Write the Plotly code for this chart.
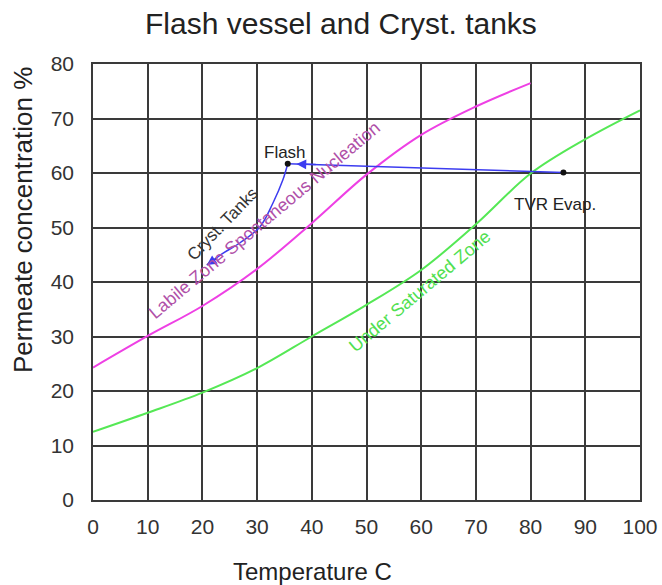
import plotly.graph_objects as go

# ---- data ----
labile_temp = [0, 10, 20, 30, 40, 50, 60, 70, 80]
labile_conc = [24.3, 30.1, 35.6, 42.4, 50.8, 59.7, 67.0, 72.2, 76.5]

sat_temp = [0, 10, 20, 30, 40, 50, 60, 70, 80, 90, 100]
sat_conc = [12.5, 16.0, 19.7, 24.2, 30.0, 35.8, 42.2, 50.6, 59.9, 66.2, 71.5]

evap_path_temp = [86.0, 35.6]
evap_path_conc = [60.1, 61.7]

cryst_path_temp = [35.6, 34.7, 32.9, 30.5, 26.9, 23.8, 20.8]
cryst_path_conc = [61.7, 58.7, 54.5, 50.1, 47.2, 45.3, 43.1]

point_temp = [35.6, 86.0]
point_conc = [61.7, 60.1]

x_ticks = [0, 10, 20, 30, 40, 50, 60, 70, 80, 90, 100]
y_ticks = [0, 10, 20, 30, 40, 50, 60, 70, 80]

FONT = "Liberation Sans, Arial, sans-serif"
MAGENTA = "#ee40e4"
GREEN = "#55e855"
BLUE = "#3c3cf0"

fig = go.Figure()
fig.add_trace(go.Scatter(x=labile_temp, y=labile_conc, mode="lines",
                         line=dict(color=MAGENTA, width=2, shape="spline", smoothing=1.0),
                         showlegend=False, hoverinfo="skip"))
fig.add_trace(go.Scatter(x=sat_temp, y=sat_conc, mode="lines",
                         line=dict(color=GREEN, width=2, shape="spline", smoothing=1.0),
                         showlegend=False, hoverinfo="skip"))
fig.add_trace(go.Scatter(x=evap_path_temp, y=evap_path_conc, mode="lines",
                         line=dict(color=BLUE, width=1.5),
                         showlegend=False, hoverinfo="skip"))
fig.add_trace(go.Scatter(x=cryst_path_temp, y=cryst_path_conc, mode="lines",
                         line=dict(color=BLUE, width=1.5, shape="spline"),
                         showlegend=False, hoverinfo="skip"))
fig.add_trace(go.Scatter(x=point_temp, y=point_conc, mode="markers",
                         marker=dict(color="#111111", size=6),
                         showlegend=False, hoverinfo="skip"))

# arrow heads along the paths
fig.add_annotation(x=37.2, y=evap_path_conc[1] - 0.05, ax=41, ay=evap_path_conc[1] - 0.15,
                   xref="x", yref="y", axref="x", ayref="y", text="",
                   showarrow=True, arrowhead=2, arrowsize=1.3, arrowwidth=1.5, arrowcolor=BLUE)
fig.add_annotation(x=cryst_path_temp[-1], y=cryst_path_conc[-1], ax=23.0, ay=44.6,
                   xref="x", yref="y", axref="x", ayref="y", text="",
                   showarrow=True, arrowhead=2, arrowsize=1.3, arrowwidth=1.5, arrowcolor=BLUE)

# text labels
fig.add_annotation(x=35.1, y=63.8, text="Flash", showarrow=False,
                   font=dict(family=FONT, size=17, color="#222222"))
fig.add_annotation(x=84.5, y=54.2, text="TVR Evap.", showarrow=False,
                   font=dict(family=FONT, size=17, color="#222222"))
fig.add_annotation(x=23.6, y=50.6, text="Cryst. Tanks", showarrow=False, textangle=-46,
                   font=dict(family=FONT, size=17, color="#333333"))
fig.add_annotation(x=31.4, y=51.3, text="Labile Zone Spontaneous Nucleation", showarrow=False,
                   textangle=-40, font=dict(family=FONT, size=18, color="#b050a8"))
fig.add_annotation(x=59.8, y=38.3, text="Under Saturated Zone", showarrow=False,
                   textangle=-40, font=dict(family=FONT, size=18, color="#50e050"))

# axis titles
fig.add_annotation(x=-0.128, y=0.642, xref="paper", yref="paper", xanchor="center", yanchor="middle",
                   text="Permeate concentration %", showarrow=False, textangle=-90,
                   font=dict(family=FONT, size=26, color="#222222"))
fig.add_annotation(x=0.402, y=-0.165, xref="paper", yref="paper", xanchor="center", yanchor="middle",
                   text="Temperature C", showarrow=False,
                   font=dict(family=FONT, size=24, color="#222222"))

axis_common = dict(showgrid=True, gridcolor="#3a3a3a", gridwidth=1.5,
                   showline=True, linecolor="#3a3a3a", linewidth=1.5, mirror=True,
                   zeroline=False, ticks="", automargin=False,
                   tickfont=dict(family=FONT, size=21, color="#333333"))

fig.update_xaxes(range=[0, 100], tickvals=x_ticks, ticktext=[str(v) for v in x_ticks],
                 ticklabelstandoff=7, **axis_common)
fig.update_yaxes(range=[0, 80], tickvals=y_ticks, ticktext=[str(v) for v in y_ticks],
                 ticklabelstandoff=13, **axis_common)

fig.update_layout(
    width=662, height=585,
    margin=dict(l=93, r=22, t=64, b=85),
    paper_bgcolor="white", plot_bgcolor="white",
    title=dict(text="Flash vessel and Cryst. tanks", xref="container", x=0.515,
               xanchor="center", yref="container", y=0.959, yanchor="middle",
               font=dict(family=FONT, size=30, color="#222222")),
    showlegend=False,
)

# remove the browser's default body margin so the figure fills the window exactly
fig.write_html("out.html", config={"displayModeBar": False},
               post_script="document.body.style.margin='0';document.body.style.overflow='hidden';")
